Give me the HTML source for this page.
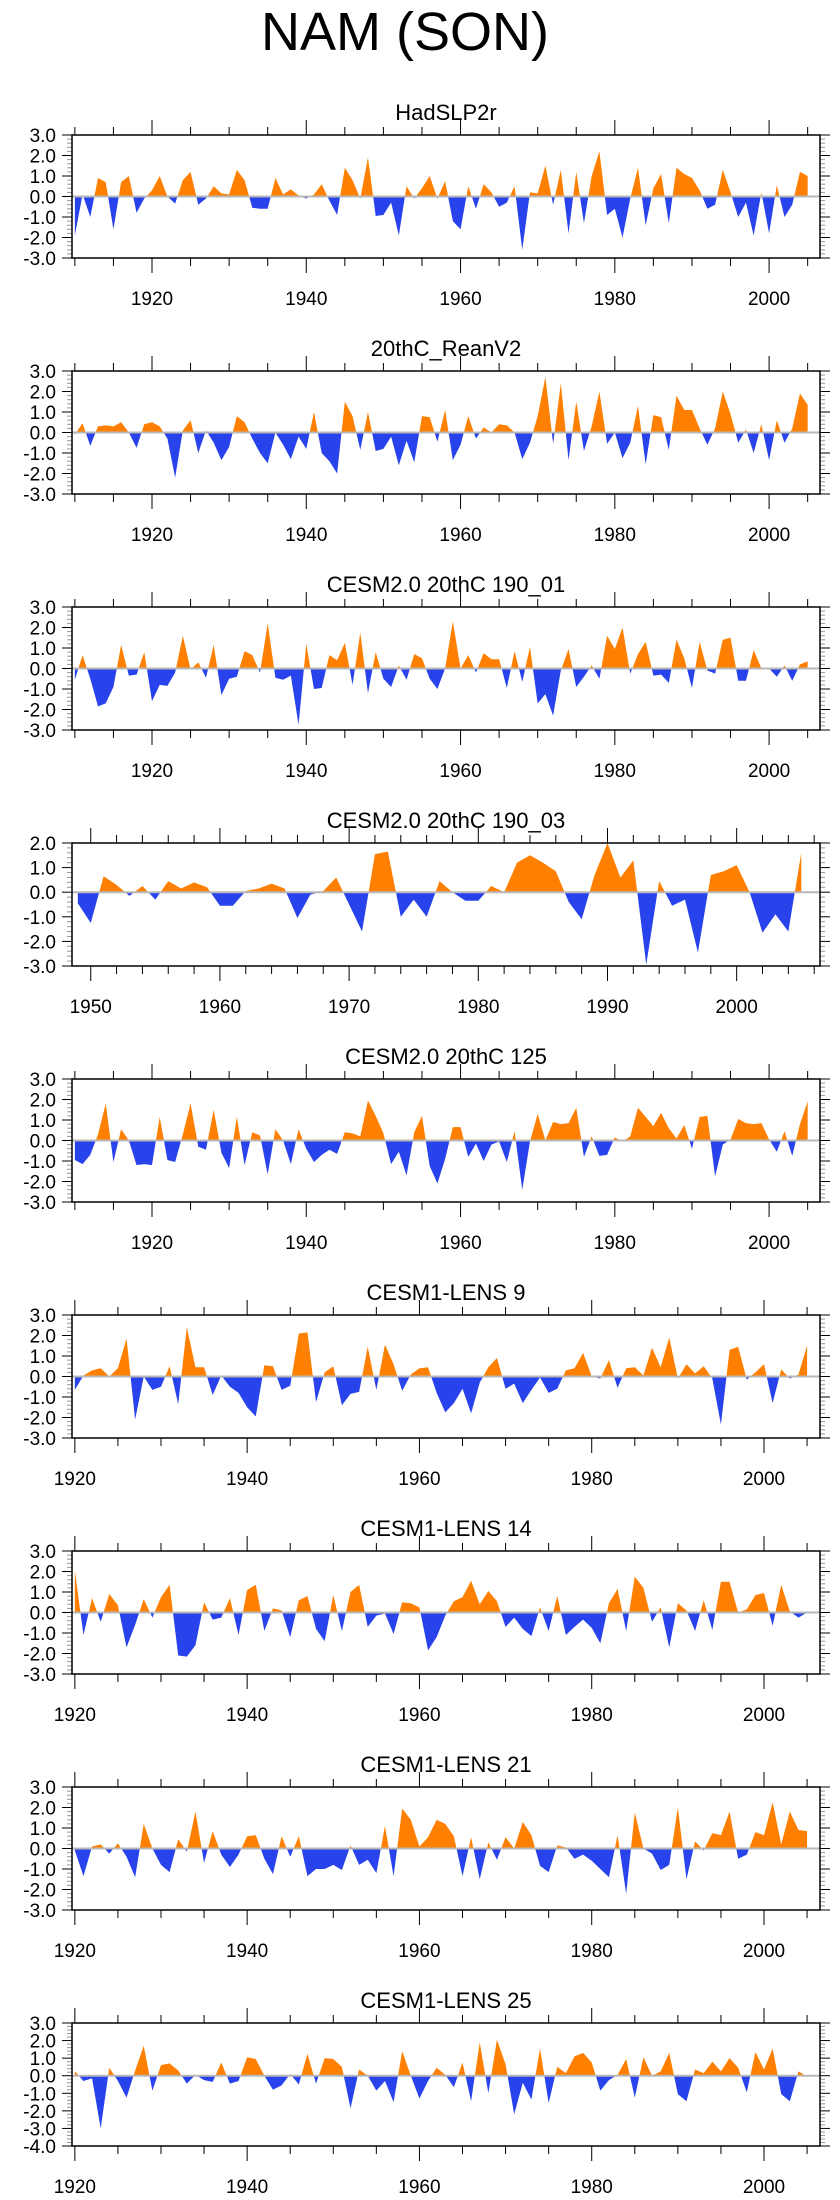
<!DOCTYPE html>
<html>
<head>
<meta charset="utf-8">
<style>
html,body{margin:0;padding:0;background:#fff;}
svg{display:block;font-family:"Liberation Sans",Arial,sans-serif;}
</style>
</head>
<body>
<svg id="chart" width="840" height="2200" viewBox="0 0 840 2200" xmlns="http://www.w3.org/2000/svg">
<text x="405" y="50" text-anchor="middle" font-size="54" fill="#000">NAM (SON)</text>
</svg>
<script>
const titles = ["HadSLP2r","20thC_ReanV2","CESM2.0 20thC 190_01","CESM2.0 20thC 190_03","CESM2.0 20thC 125","CESM1-LENS 9","CESM1-LENS 14","CESM1-LENS 21","CESM1-LENS 25"];
const startYears = [1910,1910,1910,1949,1910,1920,1920,1920,1920];

const hadslp2r = [-1.9,0.1,-1.0,0.9,0.7,-1.6,0.7,1.0,-0.8,-0.1,0.3,1.0,0.0,-0.35,0.8,1.2,-0.4,-0.1,0.5,0.15,0.1,1.3,0.8,-0.55,-0.6,-0.6,0.9,0.1,0.35,0.05,-0.1,0.1,0.6,-0.2,-0.9,1.4,0.8,-0.1,1.9,-0.95,-0.9,-0.3,-1.9,0.5,-0.1,0.4,1.0,-0.1,0.75,-1.2,-1.6,0.5,-0.6,0.6,0.2,-0.5,-0.3,0.5,-2.6,0.2,0.15,1.5,-0.4,1.3,-1.8,1.2,-1.3,1.0,2.2,-0.9,-0.6,-2.0,-0.1,1.4,-1.4,0.4,1.1,-1.3,1.4,1.1,0.9,0.3,-0.6,-0.4,1.3,0.2,-1.0,-0.3,-1.9,0.2,-1.8,0.55,-1.0,-0.4,1.2,1.0];
const reanv2 = [-0.1,0.45,-0.65,0.3,0.35,0.3,0.5,0.0,-0.75,0.4,0.5,0.3,-0.3,-2.2,0.1,0.6,-1.0,0.1,-0.5,-1.35,-0.7,0.8,0.5,-0.3,-1.0,-1.5,0.0,-0.6,-1.3,-0.2,-0.8,1.0,-1.0,-1.4,-2.0,1.5,0.8,-0.85,1.0,-0.9,-0.8,-0.2,-1.6,-0.4,-1.45,0.8,0.75,-0.45,1.1,-1.35,-0.6,0.8,-0.3,0.25,0.0,0.4,0.35,0.0,-1.3,-0.5,0.8,2.7,-0.55,2.4,-1.35,1.5,-0.9,0.3,2.0,-0.55,0.0,-1.25,-0.5,1.3,-1.55,0.85,0.75,-0.85,1.8,1.1,1.1,0.2,-0.6,0.2,2.0,0.9,-0.5,0.15,-1.0,0.4,-1.35,0.6,-0.5,0.2,1.9,1.35];
const cesm2_01 = [-0.55,0.65,-0.5,-1.85,-1.7,-0.9,1.15,-0.35,-0.3,0.8,-1.6,-0.8,-0.85,-0.2,1.6,-0.05,0.3,-0.45,1.15,-1.3,-0.5,-0.4,0.85,0.65,-0.2,2.2,-0.45,-0.55,-0.35,-2.75,1.2,-1.0,-0.95,0.65,0.4,1.25,-0.8,1.75,-1.2,0.8,-0.5,-0.9,0.15,-0.55,0.7,0.5,-0.5,-1.0,0.0,2.3,0.0,0.65,-0.2,0.75,0.45,0.45,-0.95,0.85,-0.65,1.05,-1.7,-1.25,-2.3,-0.1,0.95,-0.9,-0.4,0.15,-0.5,1.6,0.95,2.0,-0.25,0.7,1.3,-0.35,-0.3,-0.7,1.4,0.5,-0.95,1.3,-0.1,-0.25,1.4,1.5,-0.6,-0.6,0.9,0.0,0.0,-0.4,0.15,-0.6,0.2,0.35];
const cesm2_03 = [-0.45,-1.25,0.65,0.3,-0.15,0.25,-0.3,0.45,0.15,0.4,0.2,-0.55,-0.55,0.05,0.15,0.35,0.15,-1.05,-0.1,0.05,0.6,-0.5,-1.6,1.55,1.65,-1.0,-0.3,-1.0,0.45,0.0,-0.35,-0.35,0.25,0.0,1.2,1.5,1.2,0.85,-0.4,-1.1,0.7,2.0,0.6,1.3,-2.95,0.45,-0.55,-0.3,-2.45,0.7,0.85,1.1,0.0,-1.65,-0.9,-1.6,1.6];
const cesm2_125 = [-0.95,-1.15,-0.7,0.3,1.8,-1.05,0.55,0.0,-1.2,-1.15,-1.2,1.15,-0.95,-1.05,0.3,1.8,-0.3,-0.45,1.5,-0.6,-1.35,1.15,-1.2,0.4,0.25,-1.65,0.55,0.0,-1.15,0.55,-0.4,-1.05,-0.7,-0.45,-0.65,0.4,0.35,0.2,1.95,1.2,0.35,-1.15,-0.55,-1.7,0.4,1.2,-1.25,-2.1,-0.9,0.65,0.65,-0.8,-0.15,-1.0,-0.2,-0.05,-1.05,0.45,-2.4,-0.05,1.3,0.0,0.9,0.8,0.85,1.6,-0.8,0.2,-0.75,-0.7,0.15,-0.05,0.2,1.6,1.15,0.7,1.35,0.6,0.1,0.75,-0.4,1.15,1.2,-1.75,-0.2,0.05,1.05,0.85,0.8,0.85,0.05,-0.55,0.45,-0.75,0.8,1.9];
const lens9 = [-0.65,0.05,0.3,0.4,0.0,0.4,1.85,-2.1,0.0,-0.65,-0.5,0.5,-1.35,2.4,0.45,0.45,-0.9,0.05,-0.5,-0.8,-1.5,-1.95,0.55,0.5,-0.65,-0.45,2.1,2.15,-1.25,0.2,0.5,-1.4,-0.85,-0.75,1.45,-0.65,1.55,0.6,-0.7,0.1,0.4,0.45,-0.8,-1.75,-1.3,-0.6,-1.8,-0.3,0.45,0.9,-0.6,-0.35,-1.3,-0.65,-0.05,-0.8,-0.6,0.3,0.4,1.15,0.0,-0.1,0.8,-0.55,0.4,0.45,0.05,1.4,0.45,1.9,-0.1,0.6,0.15,0.5,-0.1,-2.35,1.3,1.45,-0.15,0.2,0.6,-1.3,0.35,-0.1,0.1,1.5];
const lens14 = [2.05,-1.1,0.7,-0.45,0.9,0.35,-1.7,-0.6,0.65,-0.25,0.75,1.35,-2.1,-2.15,-1.6,0.5,-0.35,-0.25,0.7,-1.1,1.1,1.35,-0.9,0.2,0.1,-1.2,0.6,0.8,-0.8,-1.4,0.85,-0.9,1.0,1.35,-0.7,-0.15,-0.05,-1.05,0.5,0.45,0.25,-1.85,-1.2,-0.15,0.55,0.75,1.55,0.4,1.05,0.55,-0.7,-0.25,-0.8,-1.15,0.25,-0.9,0.8,-1.1,-0.7,-0.35,-0.75,-1.5,0.45,1.15,-0.9,1.75,1.2,-0.45,0.25,-1.7,0.45,0.1,-0.9,0.6,-0.85,1.5,1.5,0.0,0.15,0.85,0.95,-0.65,1.35,0.05,-0.25,0.0];
const lens21 = [-0.1,-1.35,0.1,0.2,-0.25,0.25,-0.4,-1.4,1.2,0.0,-0.8,-1.15,0.45,-0.15,1.8,-0.7,0.85,-0.3,-0.9,-0.3,0.6,0.65,-0.5,-1.25,0.6,-0.4,0.6,-1.35,-1.0,-1.0,-0.8,-1.05,0.15,-0.8,-0.55,-1.2,1.1,-1.35,1.95,1.4,0.1,0.55,1.4,1.2,0.6,-1.35,0.55,-1.5,0.3,-0.55,0.55,0.0,1.3,0.65,-0.85,-1.15,0.15,0.05,-0.5,-0.3,-0.6,-1.0,-1.4,0.65,-2.2,1.75,0.0,-0.25,-1.05,-0.8,2.0,-1.5,0.35,-0.1,0.75,0.65,1.8,-0.5,-0.3,0.8,0.65,2.25,0.2,1.8,0.9,0.85];
const lens25 = [0.25,-0.3,-0.15,-3.0,0.45,-0.3,-1.25,0.3,1.7,-0.85,0.6,0.7,0.3,-0.45,0.05,-0.25,-0.35,0.75,-0.45,-0.3,1.05,0.95,0.0,-0.8,-0.55,0.1,-0.5,1.25,-0.45,1.0,0.95,0.5,-1.85,0.35,0.0,-0.85,-0.3,-1.5,1.4,0.0,-1.3,-0.3,0.45,0.05,-0.65,0.75,-1.45,1.9,-1.0,2.05,0.65,-2.2,-0.4,-1.35,1.55,-1.55,0.5,0.15,1.1,1.3,0.75,-0.85,-0.25,0.05,0.95,-1.25,1.05,0.0,0.25,1.3,-1.05,-1.45,0.35,0.15,0.8,0.25,1.0,0.45,-0.95,1.35,0.35,1.55,-1.05,-1.45,0.25,-0.05];

const series = [hadslp2r,reanv2,cesm2_01,cesm2_03,cesm2_125,lens9,lens14,lens21,lens25];
const yMins = [-3,-3,-3,-3,-3,-3,-3,-3,-4];
const yMaxs = [3,3,3,2,3,3,3,3,3];
const yearLo = [1909.63,1909.63,1909.63,1948.55,1909.63,1919.67,1919.67,1919.67,1919.67];
const yearHi = [2006.6,2006.6,2006.6,2006.45,2006.6,2006.5,2006.5,2006.5,2006.5];
const labelTicks = [[1920,1940,1960,1980,2000],[1920,1940,1960,1980,2000],[1920,1940,1960,1980,2000],[1950,1960,1970,1980,1990,2000],[1920,1940,1960,1980,2000],[1920,1940,1960,1980,2000],[1920,1940,1960,1980,2000],[1920,1940,1960,1980,2000],[1920,1940,1960,1980,2000]];
const minorSteps = [5,5,5,2,5,5,5,5,5];

const NS = "http://www.w3.org/2000/svg";
const svg = document.getElementById("chart");
const L = 72, R = 820, H = 123, TOP0 = 135, GAP = 236;
const ORANGE = "#ff8000", BLUE = "#2843ec";

function mk(tag, attrs, parent){
  const e = document.createElementNS(NS, tag);
  for (const k in attrs) e.setAttribute(k, attrs[k]);
  parent.appendChild(e);
  return e;
}

series.forEach((vals, p) => {
  const top = TOP0 + GAP * p, bot = top + H;
  const y0 = yMins[p], y1 = yMaxs[p];
  const xs = yr => L + (yr - yearLo[p]) / (yearHi[p] - yearLo[p]) * (R - L);
  const ys = v => bot - (v - y0) / (y1 - y0) * H;
  const g = mk("g", {}, svg);
  
  

  const t = mk("text", {x: (L + R) / 2, y: top - 15, "text-anchor": "middle", "font-size": 22, fill: "#000"}, g);
  t.textContent = titles[p];
  
  

  const zy = ys(0);
  const cu = mk("clipPath", {id: "cu" + p}, g);
  mk("rect", {x: L, y: top, width: R - L, height: zy - top}, cu);
  const cd = mk("clipPath", {id: "cd" + p}, g);
  mk("rect", {x: L, y: zy, width: R - L, height: bot - zy}, cd);

  let d = "M" + xs(startYears[p]) + "," + zy;
  vals.forEach((v, i) => { d += " L" + xs(startYears[p] + i).toFixed(2) + "," + ys(v).toFixed(2); });
  d += " L" + xs(startYears[p] + vals.length - 1) + "," + zy + " Z";
  const up = mk("path", {d: d, fill: ORANGE, "clip-path": "url(#cu" + p + ")"}, g);
  
  
  const dn = mk("path", {d: d, fill: BLUE, "clip-path": "url(#cd" + p + ")"}, g);
  
  

  const zl = mk("line", {x1: L, x2: R, y1: zy, y2: zy, stroke: "#b8b8b8", "stroke-width": 2}, g);
  
  

  const nMinor = Math.round((y1 - y0) / 0.2);
  for (let k = 0; k <= nMinor; k++) {
    const v = y0 + k * 0.2, yy = ys(v);
    const major = Math.abs(v - Math.round(v)) < 1e-6;
    const len = major ? 10 : 5;
    mk("line", {x1: L - len, x2: L, y1: yy, y2: yy, stroke: major ? "#000" : "#999", "stroke-width": 1}, g);
    mk("line", {x1: R, x2: R + len, y1: yy, y2: yy, stroke: major ? "#000" : "#999", "stroke-width": 1}, g);
    if (major) {
      const lb = mk("text", {x: 56, y: yy + 7, "text-anchor": "end", "font-size": 19, fill: "#000"}, g);
      lb.textContent = Math.round(v).toFixed(1);
      
      
    }
  }
  const st = minorSteps[p];
  const first = Math.ceil(yearLo[p] / st) * st;
  for (let yr = first; yr <= yearHi[p]; yr += st) {
    const xx = xs(yr);
    const major = labelTicks[p].indexOf(yr) >= 0;
    const len = major ? 15 : 8;
    mk("line", {x1: xx, x2: xx, y1: top - len, y2: top, stroke: "#000", "stroke-width": 1}, g);
    mk("line", {x1: xx, x2: xx, y1: bot, y2: bot + len, stroke: "#000", "stroke-width": 1}, g);
  }
  labelTicks[p].forEach(yr => {
    const lb = mk("text", {x: xs(yr), y: bot + 47, "text-anchor": "middle", "font-size": 19, fill: "#000"}, g);
    lb.textContent = yr;
    
    
  });

  const fr = mk("rect", {x: L, y: top, width: R - L, height: H, fill: "none", stroke: "#000", "stroke-width": 1.5}, g);
  
  
});
</script>
</body>
</html>
